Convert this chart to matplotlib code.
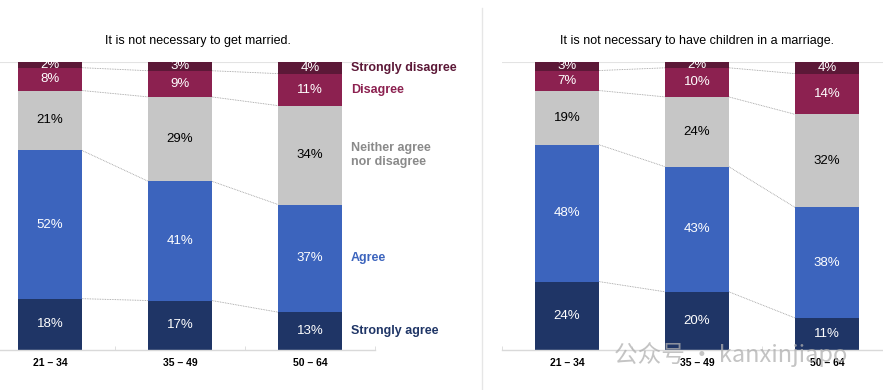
import numpy as np
import matplotlib.pyplot as plt

plt.rcParams['font.family'] = ['Liberation Sans', 'DejaVu Sans']

groups = ['21 – 34', '35 – 49', '50 – 64']
levels = ['Strongly agree', 'Agree', 'Neither agree\nnor disagree', 'Disagree', 'Strongly disagree']

# percentages per age group, bottom to top
married = {
    'Strongly agree':    [18, 17, 13],
    'Agree':             [52, 41, 37],
    'Neither':           [21, 29, 34],
    'Disagree':          [8, 9, 11],
    'Strongly disagree': [2, 3, 4],
}
children = {
    'Strongly agree':    [24, 20, 11],
    'Agree':             [48, 43, 38],
    'Neither':           [19, 24, 32],
    'Disagree':          [7, 10, 14],
    'Strongly disagree': [3, 2, 4],
}

colors = ['#1f3566', '#3c64bd', '#c6c6c6', '#8c2150', '#5c1837']
txt_colors = ['white', 'white', 'black', 'white', 'white']
leg_colors = ['#1f3566', '#3c64bd', '#8a8a8a', '#8c2150', '#5c1837']

W = 0.49


def draw(ax, data, legend):
    vals = np.array(list(data.values()), dtype=float)
    shares = vals / vals.sum(axis=0) * 100
    x = np.arange(len(groups))
    bottom = np.zeros(len(groups))
    tops = []
    for k in range(len(vals)):
        ax.bar(x, shares[k], W, bottom=bottom, color=colors[k], zorder=2)
        for i in range(len(groups)):
            ax.text(x[i], bottom[i] + shares[k][i] / 2, f'{int(vals[k][i])}%',
                    ha='center', va='center', fontsize=9.5, color=txt_colors[k],
                    family=['Liberation Sans Narrow', 'Liberation Sans'], zorder=3)
        if legend:
            ax.text(x[-1] + W / 2 + 0.07, bottom[-1] + shares[k][-1] / 2, levels[k],
                    ha='left', va='center', fontsize=9, fontweight='bold',
                    color=leg_colors[k], linespacing=1.25)
        bottom = bottom + shares[k]
        tops.append(bottom.copy())
    # dotted connectors between bars
    for t in tops[:-1]:
        for i in range(len(groups) - 1):
            ax.plot([x[i] + W / 2, x[i + 1] - W / 2], [t[i], t[i + 1]],
                    color='#9a9a9a', lw=0.6, ls=(0, (1, 1)), zorder=1)
    ax.axhline(100, color='#e3e3e3', lw=0.8, zorder=0)
    ax.set_xlim(-0.5, 2.5)
    ax.set_ylim(0, 100)
    ax.set_xticks(x)
    ax.set_xticklabels(groups, fontsize=7.5, fontweight='bold')
    ax.set_xticks([-0.5, 0.5, 1.5, 2.5], minor=True)
    ax.tick_params(axis='x', which='major', length=0, pad=6)
    ax.tick_params(axis='x', which='minor', length=3, color='#d9d9d9', direction='in')
    ax.set_yticks([])
    for s in ['top', 'left', 'right']:
        ax.spines[s].set_visible(False)
    ax.spines['bottom'].set_color('#d9d9d9')
    ax.spines['bottom'].set_linewidth(1)


fig = plt.figure(figsize=(8.83, 3.9), dpi=100)
ax1 = fig.add_axes([-15 / 883, 40 / 390, 390 / 883, 288 / 390])
ax2 = fig.add_axes([502 / 883, 40 / 390, 390 / 883, 288 / 390])
draw(ax1, married, True)
draw(ax2, children, False)

fig.text(198 / 883, 1 - 41 / 390, 'It is not necessary to get married.',
         ha='center', va='center', fontsize=9)
fig.text(697 / 883, 1 - 41 / 390, 'It is not necessary to have children in a marriage.',
         ha='center', va='center', fontsize=9)

# panel separator
fig.add_artist(plt.Line2D([482 / 883, 482 / 883], [0, 1 - 8 / 390],
                          transform=fig.transFigure, color='#e6e6e6', lw=1))

# watermark
fig.text(614 / 883, 1 - 355 / 390, '公众号 · kanxinjiapo', ha='left', va='center',
         fontsize=17, color='#b0b0b0', alpha=0.75,
         family=['Noto Sans CJK SC', 'DejaVu Sans'])

fig.savefig('out.png', dpi=100)
